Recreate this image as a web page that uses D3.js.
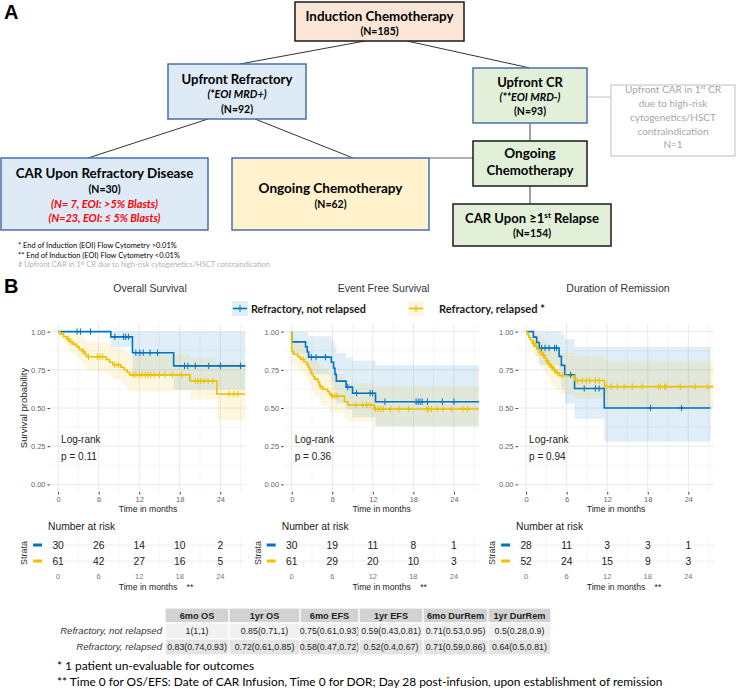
<!DOCTYPE html>
<html><head><meta charset="utf-8">
<script src="https://cdn.jsdelivr.net/npm/d3@7"></script>
<style>body{margin:0;background:#fff}svg{display:block}</style>
</head><body>
<svg id="c" width="738" height="689"></svg>
<script>
// ---------------- DATA ----------------
const flowNames = ["Induction Chemotherapy","Upfront Refractory","Upfront CR","CAR Upon Refractory Disease","Ongoing Chemotherapy","Ongoing Chemotherapy","CAR Upon ≥1st Relapse"];
const flowN = [185, 92, 93, 30, 62, null, 154];
const blastSplit = [7, 23];
const upfrontCAR_N = 1;

const groups = ["Refractory, not relapsed", "Refractory, relapsed *"];
const colors = ["#0073C2", "#EFC000"];
const timeTicks = [0, 6, 12, 18, 24];
const survTicks = [0, 0.25, 0.5, 0.75, 1];
const panelTitles = ["Overall Survival", "Event Free Survival", "Duration of Remission"];
const pValues = ["p = 0.11", "p = 0.36", "p = 0.94"];

// steps: [time, survival, lower CI, upper CI]
const osNR = [[0,1,1,1],[7.8,0.966,0.90,1],[11.0,0.862,0.71,1],[17.1,0.776,0.62,1]];
const osNRend = 27.7;
const osNRcens = [2.8,3.3,4.8,8.4,9.7,10.0,10.4,11.5,12.1,12.6,13.6,14.7,18.7,19.2,20.3,22.3,24.0,27.0];
const osR = [[0,1,1,1],[0.3,0.984,0.95,1],[0.8,0.967,0.92,1],[1.3,0.951,0.90,1],[1.7,0.934,0.87,1],[2.2,0.918,0.85,0.99],[2.7,0.902,0.83,0.98],[3.1,0.885,0.81,0.97],[3.6,0.869,0.79,0.96],[4.0,0.852,0.77,0.94],[4.2,0.836,0.745,0.93],[7.1,0.818,0.725,0.92],[7.6,0.80,0.705,0.91],[8.1,0.783,0.685,0.895],[9.3,0.767,0.665,0.885],[9.75,0.75,0.645,0.87],[10.2,0.734,0.625,0.86],[10.6,0.717,0.61,0.85],[19.5,0.677,0.555,0.825],[23.5,0.592,0.42,0.80]];
const osRend = 27.7;
const osRcens = [1.5,1.9,3.7,4.5,5.8,6.2,6.6,8.4,8.9,11.1,11.5,12.0,12.4,12.9,13.3,13.7,14.2,15.0,15.8,16.9,18.3,20.3,20.7,21.1,21.6,22.2,22.9,25.3,26.0,26.6];

const efsNR = [[0,1,1,1],[0,0.933,0.85,1],[2.05,0.90,0.80,1],[2.3,0.867,0.76,0.99],[2.5,0.833,0.72,0.97],[5.86,0.80,0.67,0.95],[6.2,0.76,0.62,0.93],[6.4,0.72,0.58,0.90],[6.6,0.676,0.53,0.86],[8.05,0.637,0.49,0.83],[9.0,0.597,0.44,0.81],[12.4,0.541,0.38,0.78]];
const efsNRend = 27.7;
const efsNRcens = [2.9,3.6,5.0,8.3,9.6,11.6,11.95,13.8,18.4,18.7,19.0,19.3,20.1,22.3,24.0];
const efsR = [[0,1,1,1],[0,0.869,0.79,0.96],[0.3,0.852,0.77,0.94],[0.9,0.836,0.75,0.93],[1.3,0.82,0.73,0.92],[1.8,0.803,0.71,0.91],[2.2,0.787,0.69,0.89],[2.4,0.77,0.67,0.88],[2.6,0.754,0.65,0.87],[2.8,0.738,0.64,0.86],[2.95,0.721,0.62,0.84],[3.2,0.705,0.60,0.83],[3.4,0.689,0.58,0.81],[3.9,0.672,0.57,0.80],[4.05,0.656,0.55,0.79],[4.2,0.64,0.53,0.77],[4.6,0.623,0.51,0.76],[5.3,0.607,0.50,0.74],[5.6,0.59,0.48,0.73],[5.9,0.578,0.47,0.72],[7.8,0.541,0.43,0.68],[8.3,0.52,0.41,0.66],[12.2,0.493,0.38,0.64]];
const efsRend = 27.7;
const efsRcens = [1.7,4.3,6.0,6.4,6.7,9.5,10.5,11.1,11.6,12.4,12.8,13.2,13.6,14.6,15.9,17.3,20.0,20.2,20.7,21.5,22.4,23.7,25.3,26.0];

const dorNR = [[0,1,1,1],[1.07,0.964,0.90,1],[1.56,0.929,0.84,1],[1.95,0.893,0.78,1],[4.88,0.838,0.70,1],[5.22,0.779,0.62,0.98],[5.71,0.717,0.53,0.95],[7.17,0.628,0.43,0.90],[11.56,0.50,0.28,0.90]];
const dorNRend = 27.3;
const dorNRcens = [2.3,2.8,3.4,4.2,4.5,6.6,8.6,10.25,10.8,18.4,23.0];
const dorR = [[0,1,1,1],[0.2,0.981,0.94,1],[0.4,0.962,0.91,1],[0.7,0.942,0.88,1],[1.0,0.923,0.85,1],[1.3,0.904,0.83,0.99],[1.6,0.885,0.80,0.98],[2.0,0.865,0.78,0.96],[2.4,0.846,0.75,0.95],[2.7,0.827,0.73,0.94],[3.0,0.808,0.71,0.92],[3.3,0.788,0.69,0.91],[3.6,0.769,0.66,0.89],[4.0,0.75,0.64,0.88],[4.4,0.731,0.62,0.87],[4.9,0.712,0.59,0.86],[7.2,0.68,0.56,0.84],[11.6,0.64,0.50,0.81]];
const dorRend = 27.7;
const dorRcens = [1.1,1.5,2.1,2.6,3.1,3.4,3.8,4.2,4.6,5.3,7.6,8.3,8.9,9.4,10.25,10.8,11.9,12.6,13.5,14.5,15.7,17.2,19.6,19.9,20.5,20.7,22.8,25.0,26.9];

const riskOS = [[30,26,14,10,2],[61,42,27,16,5]];
const riskEFS = [[30,19,11,8,1],[61,29,20,10,3]];
const riskDOR = [[28,11,3,3,1],[52,24,15,9,3]];

const tableHeaders = ["6mo OS","1yr OS","6mo EFS","1yr EFS","6mo DurRem","1yr DurRem"];
const tableRowLabels = ["Refractory, not relapsed","Refractory, relapsed"];
const tableNR = ["1(1,1)","0.85(0.71,1)","0.75(0.61,0.93)","0.59(0.43,0.81)","0.71(0.53,0.95)","0.5(0.28,0.9)"];
const tableR = ["0.83(0.74,0.93)","0.72(0.61,0.85)","0.58(0.47,0.72)","0.52(0.4,0.67)","0.71(0.59,0.86)","0.64(0.5,0.81)"];

// ---------------- DRAW ----------------
const svg = d3.select("#c");
svg.append("rect").attr("width",738).attr("height",689).attr("fill","#fff");
const FC = "Lato, 'Open Sans', sans-serif";
const FG = "'Liberation Sans', Arial, Helvetica, sans-serif";

function txt(x, y, s, o = {}) {
  const t = svg.append("text").attr("x", x).attr("y", y)
    .attr("text-anchor", o.anchor || "middle")
    .attr("font-family", o.ff || FC).attr("font-size", o.fs || 10)
    .attr("font-weight", o.fw || "normal").attr("font-style", o.fst || "normal")
    .attr("fill", o.fill || "#000");
  if (s !== null) t.text(s);
  return t;
}
function fit(t, w) {
  const l = t.node().getComputedTextLength();
  if (l > 0) { const fs = parseFloat(t.attr("font-size")); t.attr("font-size", (fs * w / l).toFixed(2)); }
  return t;
}
function line(x1,y1,x2,y2,c,w){ svg.append("line").attr("x1",x1).attr("y1",y1).attr("x2",x2).attr("y2",y2).attr("stroke",c||"#333").attr("stroke-width",w||1); }
function rect(x,y,w,h,fill,stroke,sw){ svg.append("rect").attr("x",x).attr("y",y).attr("width",w).attr("height",h).attr("fill",fill).attr("stroke",stroke).attr("stroke-width",sw||1.5); }

// Panel labels
txt(4, 19, "A", {anchor:"start", ff:FG, fs:20, fw:"bold"});
txt(4, 293, "B", {anchor:"start", ff:FG, fs:20, fw:"bold"});

// connectors
line(365,41,240,64,"#333");
line(407,41,530,68,"#333");
line(208,119,88,158,"#333");
line(255,119,353,158,"#333");
line(587,97,611,97,"#bfbfbf");
line(530,123,530,141,"#444");
line(429,158,473,158,"#666");
line(530,186,530,204,"#444");

const blueS = "#4a6fae";
// boxes
rect(295,2,169,39,"#fbe5d6","#1a1a1a");
fit(txt(379.5,21,flowNames[0],{fs:13.5,fw:"bold"}),148);
txt(379.5,35,`(N=${flowN[0]})`,{fs:10.5,fw:"bold"});

rect(168,64,138,55,"#deebf7",blueS);
fit(txt(237,84,flowNames[1],{fs:13,fw:"bold"}),111);
txt(237,98,"(*EOI MRD+)",{fs:10.8,fw:"bold",fst:"italic"});
txt(237,113,`(N=${flowN[1]})`,{fs:10.5,fw:"bold"});

rect(473,68,114,55,"#e2f0d9",blueS);
txt(530,87,flowNames[2],{fs:13,fw:"bold"});
txt(530,101,"(**EOI MRD-)",{fs:10.8,fw:"bold",fst:"italic"});
txt(530,115,`(N=${flowN[2]})`,{fs:10.5,fw:"bold"});

rect(611,85,124,71,"#fff","#c8c8c8",1.2);
{
  const gc = "#a6a6a6";
  const t1 = txt(673,92.5,null,{fs:10,fill:gc});
  t1.append("tspan").text("Upfront CAR in 1");
  t1.append("tspan").attr("font-size","62%").attr("dy",-4).text("st");
  t1.append("tspan").attr("dy",4).text(" CR");
  txt(673,106.5,"due to high-risk",{fs:10,fill:gc});
  txt(673,120.5,"cytogenetics/HSCT",{fs:10,fill:gc});
  txt(673,134.5,"contraindication",{fs:10,fill:gc});
  txt(673,148,`N=${upfrontCAR_N}`,{fs:10,fill:gc});
}

rect(473,141,114,45,"#e2f0d9","#1a1a1a");
txt(530,158,"Ongoing",{fs:13.5,fw:"bold"});
fit(txt(530,175,"Chemotherapy",{fs:13.5,fw:"bold"}),87);

rect(453,204,158,42,"#e2f0d9","#1a1a1a");
{
  const t = txt(532,223,null,{fs:14,fw:"bold"});
  t.append("tspan").text("CAR Upon ≥1");
  t.append("tspan").attr("font-size","62%").attr("dy",-5).text("st");
  t.append("tspan").attr("dy",5).text(" Relapse");
  fit(t,134);
}
txt(532,237,`(N=${flowN[6]})`,{fs:10.5,fw:"bold"});

rect(1,158,207,72,"#deebf7",blueS);
fit(txt(104.5,178,flowNames[3],{fs:15,fw:"bold"}),178);
txt(104.5,193,`(N=${flowN[3]})`,{fs:10.5,fw:"bold"});
fit(txt(104.5,207.5,`(N= ${blastSplit[0]}, EOI: >5% Blasts)`,{fs:11.5,fw:"bold",fst:"italic",fill:"#ff0000"}),107);
fit(txt(104.5,222,`(N=${blastSplit[1]}, EOI: ≤ 5% Blasts)`,{fs:11.5,fw:"bold",fst:"italic",fill:"#ff0000"}),112);

rect(232,158,197,72,"#fff2cc",blueS);
fit(txt(330.5,193,flowNames[4],{fs:15,fw:"bold"}),144);
txt(330.5,208,`(N=${flowN[4]})`,{fs:10.5,fw:"bold"});

// top footnotes
{
  const f1 = fit(txt(18,248,"* End of Induction (EOI) Flow Cytometry >0.01%",{anchor:"start",fs:7}),159);
  const fs = f1.attr("font-size");
  txt(18,257.5,"** End of Induction (EOI) Flow Cytometry <0.01%",{anchor:"start",fs:fs});
  const t3 = txt(18,267,null,{anchor:"start",fs:fs,fill:"#b3b3b3"});
  t3.append("tspan").text("# Upfront CAR in 1");
  t3.append("tspan").attr("font-size","62%").attr("dy",-2.5).text("st");
  t3.append("tspan").attr("dy",2.5).text(" CR due to high-risk cytogenetics/HSCT contraindication");
}

// ---------------- KM PANELS ----------------
const panels = [
  {left:50, curves:[{s:osNR,end:osNRend,c:osNRcens},{s:osR,end:osRend,c:osRcens}], risk:riskOS},
  {left:283.6, curves:[{s:efsNR,end:efsNRend,c:efsNRcens},{s:efsR,end:efsRend,c:efsRcens}], risk:riskEFS},
  {left:518, curves:[{s:dorNR,end:dorNRend,c:dorNRcens},{s:dorR,end:dorRend,c:dorRcens}], risk:riskDOR}
];
const PW = 196;
const y = d3.scaleLinear().domain([-0.05,1.05]).range([492,324]);
function survAt(steps,t){ let v=steps[0][1]; for(const s of steps){ if(s[0]<=t) v=s[1]; } return v; }

panels.forEach((p,i)=>{
  const x = d3.scaleLinear().domain([-1.2,27.8]).range([p.left,p.left+PW]);
  const g = svg.append("g");
  // grid
  const minorX = [3,9,15,21,27], minorY=[0.125,0.375,0.625,0.875];
  minorX.forEach(t=>g.append("line").attr("x1",x(t)).attr("x2",x(t)).attr("y1",324).attr("y2",492).attr("stroke","#f3f3f3").attr("stroke-width",0.8));
  minorY.forEach(v=>g.append("line").attr("x1",p.left).attr("x2",p.left+PW).attr("y1",y(v)).attr("y2",y(v)).attr("stroke","#f3f3f3").attr("stroke-width",0.8));
  timeTicks.forEach(t=>g.append("line").attr("x1",x(t)).attr("x2",x(t)).attr("y1",324).attr("y2",492).attr("stroke","#e8e8e8").attr("stroke-width",1));
  survTicks.forEach(v=>g.append("line").attr("x1",p.left).attr("x2",p.left+PW).attr("y1",y(v)).attr("y2",y(v)).attr("stroke","#e8e8e8").attr("stroke-width",1));
  // ribbons
  p.curves.forEach((c,k)=>{
    const last = c.s[c.s.length-1];
    const pts = c.s.concat([[c.end,last[1],last[2],last[3]]]);
    const area = d3.area().curve(d3.curveStepAfter).x(d=>x(d[0])).y0(d=>y(d[2])).y1(d=>y(d[3]));
    g.append("path").attr("d",area(pts)).attr("fill",colors[k]).attr("fill-opacity",0.12);
  });
  // lines
  p.curves.forEach((c,k)=>{
    const last = c.s[c.s.length-1];
    const pts = c.s.concat([[c.end,last[1],last[2],last[3]]]);
    const ln = d3.line().curve(d3.curveStepAfter).x(d=>x(d[0])).y(d=>y(d[1]));
    g.append("path").attr("d",ln(pts)).attr("fill","none").attr("stroke",colors[k]).attr("stroke-width",1.6);
  });
  // censor marks
  p.curves.forEach((c,k)=>{
    c.c.forEach(t=>{
      const cx = x(t), cy = y(survAt(c.s,t));
      g.append("line").attr("x1",cx).attr("x2",cx).attr("y1",cy-3.2).attr("y2",cy+3.2).attr("stroke",colors[k]).attr("stroke-width",1);
      g.append("line").attr("x1",cx-2.6).attr("x2",cx+2.6).attr("y1",cy).attr("y2",cy).attr("stroke",colors[k]).attr("stroke-width",1);
    });
  });
  // axes
  const ay = g.append("g").attr("transform",`translate(${p.left},0)`)
    .call(d3.axisLeft(y).tickValues(survTicks).tickFormat(d3.format(".2f")).tickSize(2.5).tickPadding(2));
  ay.select(".domain").remove();
  ay.selectAll("line").attr("stroke","#444");
  ay.selectAll("text").attr("font-family",FG).attr("font-size",7.5).attr("fill","#666");
  const ax = g.append("g").attr("transform",`translate(0,492)`)
    .call(d3.axisBottom(x).tickValues(timeTicks).tickFormat(d3.format("d")).tickSize(2.5).tickPadding(2));
  ax.select(".domain").remove();
  ax.selectAll("line").attr("stroke","#444");
  ax.selectAll("text").attr("font-family",FG).attr("font-size",7.5).attr("fill","#666");
  // titles
  const cx = p.left + PW/2;
  txt(cx+2, 292, panelTitles[i], {ff:FG, fs:10.5, fill:"#333"});
  txt(cx, 512, "Time in months", {ff:FG, fs:8.6, fill:"#222"});
  txt(x(0)+3, 443, "Log-rank", {anchor:"start", ff:FG, fs:10, fill:"#222"});
  txt(x(0)+3, 459.5, pValues[i], {anchor:"start", ff:FG, fs:10, fill:"#222"});
  if (i===0) {
    svg.append("text").attr("transform","translate(26.5,408) rotate(-90)").attr("text-anchor","middle")
      .attr("font-family",FG).attr("font-size",9.6).attr("fill","#222").text("Survival probability");
  }
  // risk table
  const rows = [545,561];
  [3,9,15,21,27].forEach(t=>g.append("line").attr("x1",x(t)).attr("x2",x(t)).attr("y1",537).attr("y2",569).attr("stroke","#f5f5f5"));
  timeTicks.forEach(t=>g.append("line").attr("x1",x(t)).attr("x2",x(t)).attr("y1",537).attr("y2",569).attr("stroke","#eeeeee"));
  rows.forEach(r=>g.append("line").attr("x1",p.left).attr("x2",p.left+PW).attr("y1",r).attr("y2",r).attr("stroke","#eeeeee"));
  txt(x(0)-10, 530, "Number at risk", {anchor:"start", ff:FG, fs:10.3, fill:"#222"});
  p.risk.forEach((row,k)=>{
    row.forEach((n,j)=>txt(x(timeTicks[j]), rows[k]+3.7, String(n), {ff:FG, fs:10.3, fill:"#222"}));
    g.append("line").attr("x1",x(0)-25).attr("x2",x(0)-16).attr("y1",rows[k]).attr("y2",rows[k]).attr("stroke",colors[k]).attr("stroke-width",3);
  });
  svg.append("text").attr("transform",`translate(${x(0)-31},553) rotate(-90)`).attr("text-anchor","middle")
    .attr("font-family",FG).attr("font-size",9).attr("fill","#333").text("Strata");
  timeTicks.forEach(t=>txt(x(t), 578.5, String(t), {ff:FG, fs:7.5, fill:"#777"}));
  txt(cx, 590, "Time in months", {ff:FG, fs:8.6, fill:"#222"});
  txt(x(19.5), 590, "**", {ff:FG, fs:8.6, fill:"#222"});
});

// legend
{
  const keys = [232, 408], tx = [251, 439], tw = [115, 106];
  groups.forEach((gname,k)=>{
    svg.append("rect").attr("x",keys[k]).attr("y",301).attr("width",16).attr("height",15).attr("fill",colors[k]).attr("fill-opacity",0.12);
    line(keys[k]+1,308.5,keys[k]+15,308.5,colors[k],1.6);
    line(keys[k]+8,305,keys[k]+8,312,colors[k],1);
    fit(txt(tx[k],313,gname,{anchor:"start",fs:11.5,fw:"bold",fill:"#1a1a1a"}),tw[k]);
  });
}

// ---------------- TABLE ----------------
{
  const edges = [165,229,300,359,423,488,551];
  const rowY = [608,623,639,655];
  const fills = ["#d2d2d2","#f1f1f1","#e4e4e4"];
  const rowsData = [tableHeaders, tableNR, tableR];
  rowsData.forEach((r,ri)=>{
    r.forEach((v,ci)=>{
      svg.append("rect").attr("x",edges[ci]).attr("y",rowY[ri]).attr("width",edges[ci+1]-edges[ci]).attr("height",rowY[ri+1]-rowY[ri])
        .attr("fill",fills[ri]).attr("stroke","#fff").attr("stroke-width",1.2);
      txt((edges[ci]+edges[ci+1])/2, (rowY[ri]+rowY[ri+1])/2+3.3, v, {ff:FG, fs: ri===0?9.2:8.8, fw: ri===0?"bold":"normal", fill:"#222"});
    });
  });
  const l0 = fit(txt(162, (rowY[1]+rowY[2])/2+3.3, tableRowLabels[0], {anchor:"end", ff:FG, fs:9, fst:"italic", fill:"#333"}), 102);
  txt(162, (rowY[2]+rowY[3])/2+3.3, tableRowLabels[1], {anchor:"end", ff:FG, fs:l0.attr("font-size"), fst:"italic", fill:"#333"});
}

// bottom footnotes
{
  const f2 = fit(txt(57,686,"** Time 0 for OS/EFS: Date of CAR Infusion, Time 0 for DOR; Day 28 post-infusion, upon establishment of remission",{anchor:"start",fs:10.5}),606);
  txt(57,670,"* 1 patient un-evaluable for outcomes",{anchor:"start",fs:f2.attr("font-size")});
}
</script>
</body></html>
